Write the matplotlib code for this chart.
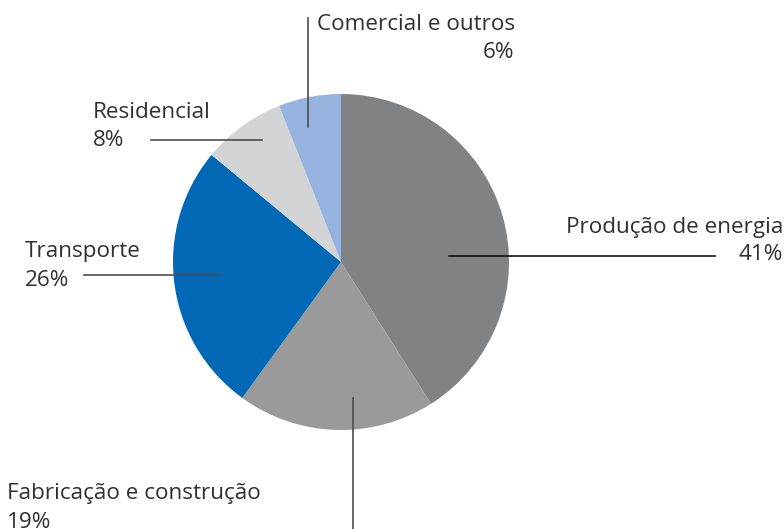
import matplotlib
matplotlib.use("Agg")
import matplotlib.pyplot as plt

# dados
setores = ["Produção de energia", "Fabricação e construção", "Transporte",
           "Residencial", "Comercial e outros"]
valores = [41, 19, 26, 8, 6]
cores = ["#818284", "#9a9a9a", "#0068b4", "#d3d4d6", "#95b3de"]

W, H = 784, 529
fig = plt.figure(figsize=(W / 100, H / 100), dpi=100)
ax = fig.add_axes([0, 0, 1, 1])

def y(py):
    # coordenada em pixels (de cima) para coordenada do gráfico
    return H - py

ax.pie(valores, colors=cores, startangle=90, counterclock=False,
       center=(341, y(262)), radius=168, frame=True,
       wedgeprops=dict(linewidth=0))
ax.set_xlim(0, W)
ax.set_ylim(0, H)
ax.set_aspect("equal")
ax.axis("off")

fonte = dict(family="Open Sans", fontsize=16.2, color="#303030")
linha = dict(color="#4d4d4d", lw=1.2)

# Comercial e outros
ax.plot([308, 308], [y(18), y(127)], **linha)
ax.text(317, y(24), setores[4], ha="left", va="center", **fonte)
ax.text(514, y(52), f"{valores[4]}%", ha="right", va="center", **fonte)

# Residencial
ax.plot([151, 262], [y(140), y(140)], **linha)
ax.text(93, y(112), setores[3], ha="left", va="center", **fonte)
ax.text(93, y(140), f"{valores[3]}%", ha="left", va="center", **fonte)

# Transporte
ax.plot([84, 220], [y(275), y(275)], **linha)
ax.text(25, y(252), setores[2], ha="left", va="center", **fonte)
ax.text(25, y(280), f"{valores[2]}%", ha="left", va="center", **fonte)

# Produção de energia
ax.plot([449, 715], [y(256), y(256)], color="#111111", lw=1.2)
ax.text(783, y(227), setores[0], ha="right", va="center", **fonte)
ax.text(783, y(255), f"{valores[0]}%", ha="right", va="center", **fonte)

# Fabricação e construção
ax.plot([353, 353], [y(398), y(529)], **linha)
ax.text(7, y(494), setores[1], ha="left", va="center", **fonte)
ax.text(7, y(522), f"{valores[1]}%", ha="left", va="center", **fonte)

fig.savefig("out.png", dpi=100)
